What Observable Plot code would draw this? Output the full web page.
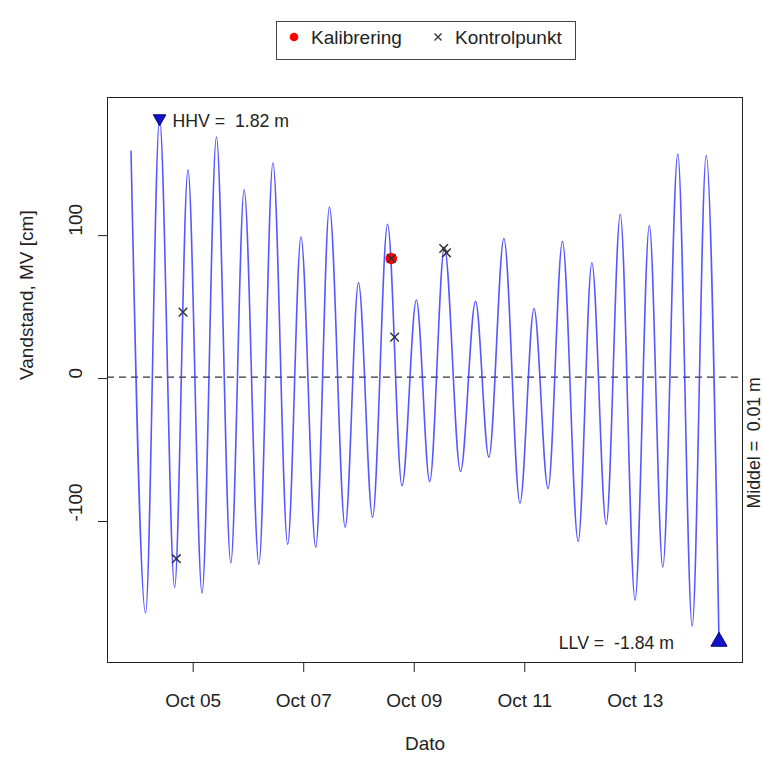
<!DOCTYPE html>
<html>
<head>
<meta charset="utf-8">
<script src="https://cdn.jsdelivr.net/npm/d3@7"></script>
<script src="https://cdn.jsdelivr.net/npm/@observablehq/plot@0.6"></script>
<style>
  body { margin: 0; background: #fff; font-family: "Liberation Sans", Arial, sans-serif; }
  #wrap { position: relative; width: 763px; height: 757px; }
  #legend { position: absolute; left: 276px; top: 21px; width: 300px; height: 39px; box-sizing: border-box;
            border: 1px solid #444; background: #fff; font-size: 19px; color: #222; }
  #legend .it { position: absolute; top: 6px; line-height: 19px; white-space: nowrap; }
  #legend svg { position: absolute; }
</style>
</head>
<body>
<div id="wrap">
  <div id="chart"></div>
  <div id="legend">
    <svg style="left:11px;top:9px" width="12" height="12"><circle cx="6" cy="6" r="4.3" fill="red"/></svg>
    <span class="it" style="left:34px">Kalibrering</span>
    <svg style="left:155px;top:9px" width="12" height="12"><path d="M2.5,2.5L9.5,9.5M9.5,2.5L2.5,9.5" stroke="#333" stroke-width="1.4"/></svg>
    <span class="it" style="left:178px">Kontrolpunkt</span>
  </div>
</div>
<script>
// Tidal extremes (alternating): time (UTC) and level in cm
const extremeTimes = [
  "2020-10-03T21:00", "2020-10-04T03:19", "2020-10-04T09:24", "2020-10-04T15:56", "2020-10-04T21:44",
  "2020-10-05T03:50", "2020-10-05T10:06", "2020-10-05T16:20", "2020-10-05T22:08", "2020-10-06T04:32",
  "2020-10-06T10:38", "2020-10-06T17:02", "2020-10-06T22:49", "2020-10-07T05:14", "2020-10-07T11:10",
  "2020-10-07T18:00", "2020-10-07T23:47", "2020-10-08T05:53", "2020-10-08T12:25", "2020-10-08T18:41",
  "2020-10-09T00:55", "2020-10-09T06:43", "2020-10-09T13:06", "2020-10-09T20:05", "2020-10-10T02:37",
  "2020-10-10T08:24", "2020-10-10T14:56", "2020-10-10T21:55", "2020-10-11T04:00", "2020-10-11T10:06",
  "2020-10-11T16:22", "2020-10-11T23:11", "2020-10-12T05:08", "2020-10-12T11:22", "2020-10-12T17:28",
  "2020-10-12T23:53", "2020-10-13T06:06", "2020-10-13T11:56", "2020-10-13T18:27", "2020-10-14T00:42",
  "2020-10-14T06:47", "2020-10-14T12:20"
];
const extremeLevels = [
  159, -164, 182, -146, 146,
  -150, 169, -129, 132, -130,
  151, -116, 99, -118, 120,
  -104, 67, -97, 108, -75,
  55, -72, 92, -65, 54,
  -55, 98, -87, 49, -77,
  96, -114, 81, -102, 115,
  -155, 107, -132, 157, -173,
  156, -184
];

// Control points (Kontrolpunkt)
const controlTimes = ["2020-10-04T19:34", "2020-10-04T16:41", "2020-10-08T15:28", "2020-10-09T12:48", "2020-10-09T13:59", "2020-10-08T14:01"];
const controlLevels = [46.5, -126, 29, 91, 88, 84];

// Calibration point (Kalibrering)
const calibTimes = ["2020-10-08T14:01"];
const calibLevels = [84];

// Mean level (cm)
const meanLevel = 1;

// Axis ticks
const xTickDates = ["2020-10-05", "2020-10-07", "2020-10-09", "2020-10-11", "2020-10-13"];
const yTicks = [-100, 0, 100];

const parse = s => new Date(s + (s.length === 10 ? "T00:00Z" : "Z"));
const series = extremeTimes.map((t, i) => ({t: parse(t), v: extremeLevels[i]}));
const controls = controlTimes.map((t, i) => ({t: parse(t), v: controlLevels[i]}));
const calib = calibTimes.map((t, i) => ({t: parse(t), v: calibLevels[i]}));
const xTicks = xTickDates.map(parse);

const hi = series.reduce((a, b) => (b.v > a.v ? b : a));
const lo = series.reduce((a, b) => (b.v < a.v ? b : a));

const tExt = d3.extent(series, d => d.t);
const tPad = (tExt[1] - tExt[0]) * 0.04;
const vExt = d3.extent(series, d => d.v);
const vPad = (vExt[1] - vExt[0]) * 0.04;

const triangleDown = {
  draw(ctx, size) {
    const s = Math.sqrt(size) * 0.6824, t = s / 2, u = s * Math.sqrt(3) / 2;
    ctx.moveTo(0, s); ctx.lineTo(u, -t); ctx.lineTo(-u, -t); ctx.closePath();
  }
};
const fmt = v => (v / 100).toFixed(2);

const chart = Plot.plot({
  width: 763,
  height: 757,
  marginLeft: 107,
  marginRight: 21,
  marginTop: 97,
  marginBottom: 95,
  style: {fontFamily: "Liberation Sans, Arial, sans-serif", fontSize: "19px", color: "#222", background: "#fff"},
  x: {type: "utc", domain: [new Date(+tExt[0] - tPad), new Date(+tExt[1] + tPad)]},
  y: {domain: [vExt[0] - vPad, vExt[1] + vPad]},
  marks: [
    Plot.ruleY([meanLevel], {stroke: "#333", strokeDasharray: "7,5", strokeWidth: 1.1}),
    Plot.line(series, {x: "t", y: "v", curve: "monotone-x", stroke: "#3a3aff", strokeWidth: 1.6, strokeOpacity: 0.85}),
    Plot.dot(calib, {x: "t", y: "v", r: 5.8, fill: "red", stroke: "none"}),
    Plot.dot(controls, {x: "t", y: "v", symbol: "times", r: 4, stroke: "#333", strokeWidth: 1.5}),
    Plot.dot([hi], {x: "t", y: "v", symbol: triangleDown, r: 6, fill: "#1212c8", stroke: "#00007a", strokeWidth: 1}),
    Plot.dot([lo], {x: "t", y: "v", symbol: "triangle", r: 6, fill: "#1212c8", stroke: "#00007a", strokeWidth: 1}),
    Plot.text([hi], {x: "t", y: "v", text: d => `HHV =  ${fmt(d.v)} m`, dx: 13, dy: 3, textAnchor: "start", fontSize: 17.7, fill: "#222"}),
    Plot.text([lo], {x: "t", y: "v", text: d => `LLV =  ${fmt(d.v)} m`, dx: -45, dy: 2, textAnchor: "end", fontSize: 17.7, fill: "#222"}),
    Plot.text([meanLevel], {y: d => d, frameAnchor: "right", dx: 12, rotate: -90, text: d => `Middel =  ${fmt(d)} m`, fontSize: 17.7, fill: "#222"}),
    Plot.axisX({ticks: xTicks, tickSize: 10, tickPadding: 21, tickFormat: d3.utcFormat("%b %d"), label: null, fontSize: 19}),
    Plot.axisY({ticks: yTicks, tickSize: 9, tickFormat: () => "", label: null}),
    Plot.text(yTicks, {y: d => d, frameAnchor: "left", dx: -32, rotate: -90, text: d => String(d), fontSize: 19, fill: "#222"}),
    Plot.text(["Vandstand, MV [cm]"], {frameAnchor: "left", dx: -81, rotate: -90, text: d => d, fontSize: 19, fill: "#222"}),
    Plot.text(["Dato"], {frameAnchor: "bottom", dy: 87, text: d => d, fontSize: 19, fill: "#222"}),
    Plot.frame({stroke: "#222"})
  ]
});
document.getElementById("chart").appendChild(chart);
</script>
</body>
</html>
